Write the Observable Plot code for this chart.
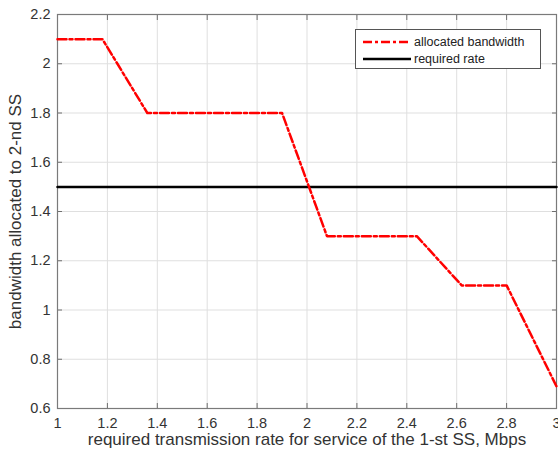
<!DOCTYPE html>
<html><head><meta charset="utf-8">
<script src="https://cdn.jsdelivr.net/npm/d3@7"></script>
<script src="https://cdn.jsdelivr.net/npm/@observablehq/plot@0.6"></script>
<style>
body{margin:0;background:#fff;}
#wrap{position:relative;width:558px;height:456px;font-family:"Liberation Sans",Arial,sans-serif;}
.legend{position:absolute;left:355px;top:29px;width:184px;height:38px;border:1px solid #555;background:#fff;font-size:12.5px;color:#222;box-sizing:content-box}
.legend .row{position:absolute;left:0;height:16px;display:flex;align-items:center}
.legend svg{display:block}
</style></head><body><div id="wrap"></div>
<script>
const rate = [1, 1.18, 1.36, 1.9, 2.08, 2.44, 2.62, 2.8, 3];
const allocated = [2.1, 2.1, 1.8, 1.8, 1.3, 1.3, 1.1, 1.1, 0.69];
const requiredX = [1, 3];
const requiredRate = [1.5, 1.5];
const xTicks = [1, 1.2, 1.4, 1.6, 1.8, 2, 2.2, 2.4, 2.6, 2.8, 3];
const yTicks = [0.6, 0.8, 1, 1.2, 1.4, 1.6, 1.8, 2, 2.2];
const xLabel = "required transmission rate for service of the 1-st SS, Mbps";
const yLabel = "bandwidth allocated to 2-nd SS";
const seriesNames = ["allocated bandwidth", "required rate"];

const allocData = rate.map((x, i) => ({x, y: allocated[i]}));
const reqData = requiredX.map((x, i) => ({x, y: requiredRate[i]}));
const fmt = d => String(+d.toFixed(1));
const tickColor = "#6e6e6e";

const chart = Plot.plot({
  width: 558, height: 456,
  marginLeft: 57, marginRight: 2, marginTop: 14, marginBottom: 48,
  style: {fontFamily: '"Liberation Sans", Arial, sans-serif', fontSize: "14px", color: "#333", background: "#fff", overflow: "visible"},
  x: {domain: [1, 3], ticks: xTicks},
  y: {domain: [0.6, 2.2], ticks: yTicks},
  marks: [
    Plot.gridX(xTicks, {stroke: "#dfdfdf", strokeOpacity: 1}),
    Plot.gridY(yTicks, {stroke: "#dfdfdf", strokeOpacity: 1}),
    Plot.axisX(xTicks, {anchor: "bottom", tickSize: 5, dy: -5, stroke: tickColor, tickFormat: () => "", label: null}),
    Plot.axisX(xTicks, {anchor: "top", tickSize: 5, dy: 5, stroke: tickColor, tickFormat: () => "", label: null}),
    Plot.axisY(yTicks, {anchor: "left", tickSize: 5, dx: 5, stroke: tickColor, tickFormat: () => "", label: null}),
    Plot.axisY(yTicks, {anchor: "right", tickSize: 5, dx: -5, stroke: tickColor, tickFormat: () => "", label: null}),
    Plot.axisX(xTicks, {anchor: "bottom", tickSize: 0, tickPadding: 9, tickFormat: fmt, fill: "#333", fontSize: 14.5, label: null}),
    Plot.axisY(yTicks, {anchor: "left", tickSize: 0, tickPadding: 7, tickFormat: fmt, fill: "#333", fontSize: 14.5, label: null}),
    Plot.frame({stroke: "#7a7a7a", strokeWidth: 1.2}),
    Plot.line(reqData, {x: "x", y: "y", stroke: "black", strokeWidth: 2.5}),
    Plot.line(allocData, {x: "x", y: "y", stroke: "red", strokeWidth: 2.5, strokeDasharray: "9,3,3,3"}),
    Plot.text([xLabel], {frameAnchor: "bottom", textAnchor: "middle", dy: 36, fontSize: 17, fill: "#333"}),
    Plot.text([yLabel], {frameAnchor: "left", textAnchor: "middle", dx: -42, rotate: -90, fontSize: 17, fill: "#333"})
  ]
});
const wrap = document.getElementById("wrap");
wrap.appendChild(chart);

const legend = document.createElement("div");
legend.className = "legend";
const styles = [{stroke: "red", dash: "9,3,3,3"}, {stroke: "black", dash: null}];
seriesNames.forEach((name, i) => {
  const row = document.createElement("div");
  row.className = "row";
  row.style.top = (4 + i * 17) + "px";
  row.innerHTML = `<svg width="58" height="16"><line x1="7" x2="55" y1="8" y2="8" stroke="${styles[i].stroke}" stroke-width="2.5" ${styles[i].dash ? `stroke-dasharray="${styles[i].dash}"` : ""}/></svg><span>${name}</span>`;
  legend.appendChild(row);
});
wrap.appendChild(legend);
</script>
</body></html>
